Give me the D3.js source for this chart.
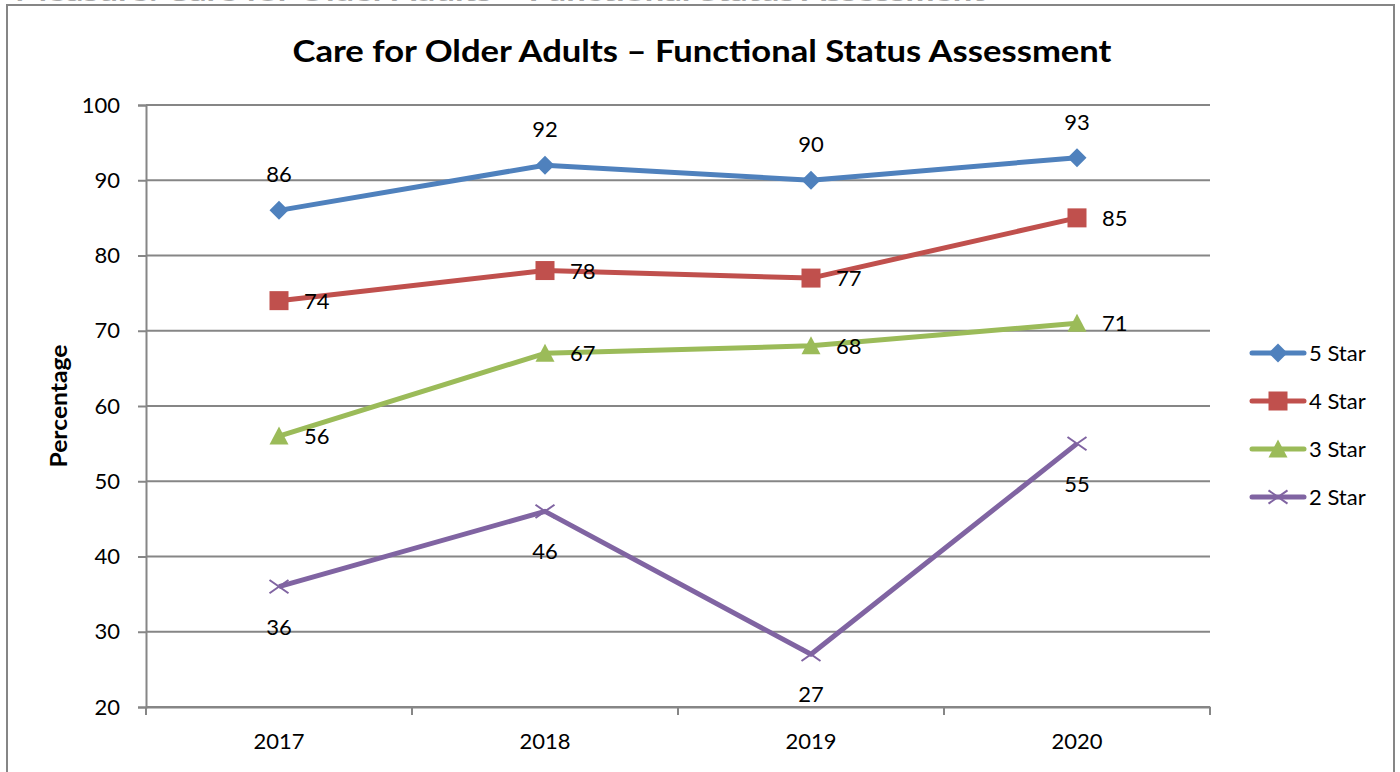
<!DOCTYPE html>
<html><head><meta charset="utf-8">
<script src="https://cdn.jsdelivr.net/npm/d3@7"></script>
<style>body{margin:0;background:#fff;} text{font-family:Lato,"Open Sans",sans-serif;}</style>
</head><body>
<svg id="c" width="1400" height="772"></svg>
<script>
const categories = ["2017","2018","2019","2020"];
const seriesNames = ["5 Star","4 Star","3 Star","2 Star"];
const star5 = [86,92,90,93];
const star4 = [74,78,77,85];
const star3 = [56,67,68,71];
const star2 = [36,46,27,55];
const yTicks = [20,30,40,50,60,70,80,90,100];
const colors = ["#4F81BD","#C0504D","#9BBB59","#8064A2"];
const markers = ["diamond","square","triangle","x"];
const labelPos = ["above","right","right","below"];
const series = [star5,star4,star3,star2];

const svg = d3.select("#c");
// clipped text at very top (from document)
svg.append("text").attr("x",15).attr("y",1).attr("font-size",22).attr("font-weight","bold")
  .attr("fill","#aaa").attr("textLength",970).attr("lengthAdjust","spacingAndGlyphs")
  .text("Measure: Care for Older Adults – Functional Status Assessment");
// outer border
svg.append("rect").attr("x",7).attr("y",5).attr("width",1387).attr("height",800)
  .attr("fill","#fff").attr("stroke","#868686").attr("stroke-width",2);

const x0 = 146, x1 = 1210, yTop = 105, yBot = 707;
const x = d3.scaleBand().domain(categories).range([x0,x1]);
const y = d3.scaleLinear().domain([20,100]).range([yBot,yTop]);
const cx = c => x(c) + x.bandwidth()/2;

svg.append("text").attr("x",702).attr("y",62).attr("text-anchor","middle")
  .attr("font-size",31).attr("font-weight","bold").attr("fill","#000")
  .attr("textLength",819).attr("lengthAdjust","spacingAndGlyphs")
  .text("Care for Older Adults – Functional Status Assessment");

// gridlines
svg.append("g").selectAll("line").data(yTicks).join("line")
  .attr("x1",x0).attr("x2",x1).attr("y1",d=>y(d)).attr("y2",d=>y(d))
  .attr("stroke","#868686").attr("stroke-width",2);

// y axis
const ya = svg.append("g").attr("transform",`translate(${x0},0)`)
  .call(d3.axisLeft(y).tickValues(yTicks).tickSize(8).tickPadding(18));
ya.select(".domain").attr("stroke","#868686").attr("stroke-width",2);
ya.selectAll(".tick line").attr("stroke","#868686").attr("stroke-width",2);
ya.selectAll(".tick text").attr("font-size",22).attr("fill","#000").attr("font-family","Lato");

// x axis
const xa = svg.append("g").attr("transform",`translate(0,${yBot})`)
  .call(d3.axisBottom(x).tickSize(0).tickPadding(26));
xa.select(".domain").attr("stroke","#868686").attr("stroke-width",2);
xa.selectAll(".tick text").attr("font-size",22).attr("fill","#000").attr("font-family","Lato");
svg.append("g").selectAll("line").data(d3.range(categories.length+1)).join("line")
  .attr("x1",i=>x0+i*x.step()).attr("x2",i=>x0+i*x.step())
  .attr("y1",yBot).attr("y2",yBot+8).attr("stroke","#868686").attr("stroke-width",2);

svg.append("text").attr("transform","translate(67,406) rotate(-90)").attr("text-anchor","middle")
  .attr("font-size",22).attr("font-weight","bold").attr("textLength",123).attr("lengthAdjust","spacingAndGlyphs")
  .text("Percentage");

function drawMarker(g, type, color, px, py){
  const s = 9.5;
  if(type==="diamond") g.append("path").attr("d",`M${px},${py-s}L${px+s},${py}L${px},${py+s}L${px-s},${py}Z`).attr("fill",color);
  else if(type==="square") g.append("rect").attr("x",px-s).attr("y",py-s).attr("width",2*s).attr("height",2*s).attr("fill",color);
  else if(type==="triangle") g.append("path").attr("d",`M${px},${py-s}L${px+s},${py+s-1}L${px-s},${py+s-1}Z`).attr("fill",color);
  else g.append("path").attr("d",`M${px-s},${py-s*0.7}L${px+s},${py+s*0.7}M${px-s},${py+s*0.7}L${px+s},${py-s*0.7}`).attr("stroke",color).attr("stroke-width",2);
}

const line = d3.line().x((d,i)=>cx(categories[i])).y(d=>y(d));
series.forEach((vals,si)=>{
  const g = svg.append("g");
  g.append("path").datum(vals).attr("d",line).attr("fill","none")
    .attr("stroke",colors[si]).attr("stroke-width",5).attr("stroke-linejoin","round");
  vals.forEach((v,i)=>{
    drawMarker(g, markers[si], colors[si], cx(categories[i]), y(v));
    let tx = cx(categories[i]), ty = y(v), anchor="middle";
    if(labelPos[si]==="above") ty -= 28;
    else if(labelPos[si]==="below") ty += 48;
    else { tx += 25; ty += 8; anchor="start"; }
    g.append("text").attr("x",tx).attr("y",ty).attr("text-anchor",anchor)
      .attr("font-size",22).attr("fill","#000").text(v);
  });
});

// legend
seriesNames.forEach((n,i)=>{
  const ly = 353 + i*48;
  const g = svg.append("g");
  g.append("line").attr("x1",1252).attr("x2",1304).attr("y1",ly).attr("y2",ly)
    .attr("stroke",colors[i]).attr("stroke-width",5).attr("stroke-linecap","round");
  drawMarker(g, markers[i], colors[i], 1278, ly);
  g.append("text").attr("x",1309).attr("y",ly+8).attr("font-size",22).text(n);
});
</script>
</body></html>
